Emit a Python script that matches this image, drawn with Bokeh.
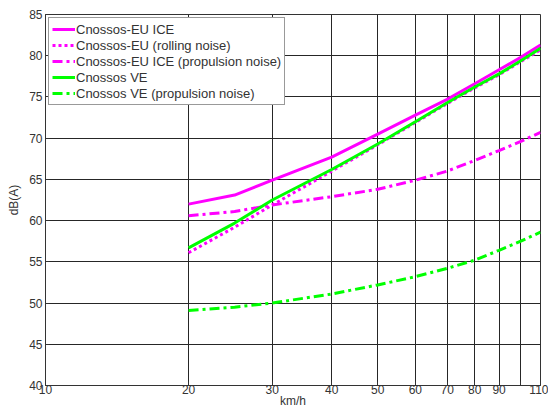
from bokeh.plotting import figure
from bokeh.models import FixedTicker, Legend, LegendItem
from bokeh.embed import file_html
from bokeh.resources import INLINE

speed = [20, 25, 30, 40, 50, 60, 70, 80, 90, 100, 110]
ice_total = [62.0, 63.1, 64.9, 67.7, 70.5, 72.8, 74.7, 76.6, 78.3, 79.8, 81.3]
ice_rolling = [56.1, 59.2, 61.9, 66.0, 69.2, 71.9, 74.2, 76.1, 77.7, 79.3, 80.7]
ice_propulsion = [60.6, 61.1, 61.9, 62.9, 63.8, 64.9, 66.0, 67.3, 68.5, 69.6, 70.7]
ve_total = [56.7, 59.7, 62.5, 66.2, 69.3, 72.0, 74.3, 76.2, 77.8, 79.4, 80.9]
ve_propulsion = [49.1, 49.5, 50.0, 51.1, 52.2, 53.2, 54.2, 55.2, 56.4, 57.5, 58.6]

x_ticks = [10, 20, 30, 40, 50, 60, 70, 80, 90, 100, 110]
y_ticks = [40, 45, 50, 55, 60, 65, 70, 75, 80, 85]

FONT = "Liberation Sans"
TXT = "#333333"

p = figure(width=548, height=411, x_axis_type="log", x_range=(10, 110), y_range=(40, 85),
           output_backend="svg", toolbar_location=None,
           min_border_left=45, min_border_right=8, min_border_top=14, min_border_bottom=26)
p.background_fill_color = "white"
p.border_fill_color = "white"
p.outline_line_color = "#333333"
p.outline_line_width = 1

p.xaxis.ticker = FixedTicker(ticks=x_ticks)
p.xaxis.major_label_overrides = {100: ""}
p.yaxis.ticker = FixedTicker(ticks=y_ticks)

for ax in (p.xaxis[0], p.yaxis[0]):
    ax.major_tick_in = 4
    ax.major_tick_out = 0
    ax.minor_tick_in = 0
    ax.minor_tick_out = 0
    ax.axis_line_color = "#333333"
    ax.major_tick_line_color = "#333333"
    ax.major_label_text_font = FONT
    ax.major_label_text_font_size = "12px"
    ax.major_label_text_color = TXT
    ax.axis_label_text_font = FONT
    ax.axis_label_text_font_size = "12px"
    ax.axis_label_text_font_style = "normal"
    ax.axis_label_text_color = TXT

p.xaxis.axis_label = "km/h"
p.yaxis.axis_label = "dB(A)"
p.xaxis.major_label_standoff = -1
p.xaxis.axis_label_standoff = -3
p.yaxis.major_label_standoff = 3
p.yaxis.axis_label_standoff = 5

p.xgrid.ticker = FixedTicker(ticks=x_ticks)
p.ygrid.ticker = FixedTicker(ticks=y_ticks)
for g in (p.xgrid[0], p.ygrid[0]):
    g.grid_line_color = "#262626"
    g.grid_line_width = 1
    g.grid_line_alpha = 1

MAG = "#ff00ff"
GRN = "#00ff00"

r1 = p.line(speed, ice_total, line_color=MAG, line_width=3)
r2 = p.line(speed, ice_rolling, line_color=MAG, line_width=3, line_dash="3 3")
r3 = p.line(speed, ice_propulsion, line_color=MAG, line_width=3, line_dash="10 4 3 4")
r4 = p.line(speed, ve_total, line_color=GRN, line_width=3)
r5 = p.line(speed, ve_propulsion, line_color=GRN, line_width=3, line_dash="10 4 3 4")

legend = Legend(items=[
    LegendItem(label="Cnossos-EU ICE", renderers=[r1]),
    LegendItem(label="Cnossos-EU (rolling noise)", renderers=[r2]),
    LegendItem(label="Cnossos-EU ICE (propulsion noise)", renderers=[r3]),
    LegendItem(label="Cnossos VE", renderers=[r4]),
    LegendItem(label="Cnossos VE (propulsion noise)", renderers=[r5]),
], location="top_left")
legend.margin = 3
legend.padding = 3
legend.spacing = 0
legend.label_height = 16
legend.glyph_height = 16
legend.glyph_width = 23
legend.label_standoff = 1
legend.label_text_font = FONT
legend.label_text_font_size = "13px"
legend.label_text_color = TXT
legend.border_line_color = "#333333"
legend.border_line_width = 1
legend.background_fill_color = "white"
legend.background_fill_alpha = 1
p.add_layout(legend, "center")

open("out.html", "w").write(file_html(p, INLINE))
